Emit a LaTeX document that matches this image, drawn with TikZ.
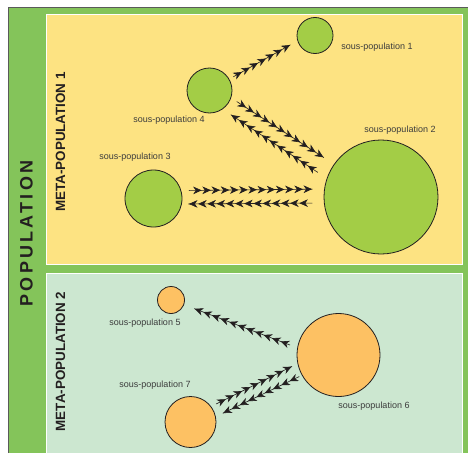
\documentclass[tikz,border=0pt]{standalone}
\usepackage{fontspec}
\setmainfont{Liberation Sans}
\newfontfamily\popfont[LetterSpace=18]{Liberation Sans}
\usetikzlibrary{arrows.meta,decorations.markings,calc}
\definecolor{bandgreen}{HTML}{84C45A}
\definecolor{metayellow}{HTML}{FDE382}
\definecolor{metagreen}{HTML}{CCE7D0}
\definecolor{cgreen}{HTML}{A3CD46}
\definecolor{corange}{HTML}{FDC163}
\definecolor{ink}{HTML}{231F20}
\definecolor{labgray}{HTML}{3C3C3C}
\definecolor{framegray}{HTML}{5A5A5A}
\begin{document}
\begin{tikzpicture}[x=1pt,y=-1pt,
  pop/.style={circle,draw=ink,line width=0.8pt,inner sep=0pt},
  gpop/.style={pop,fill=cgreen},
  opop/.style={pop,fill=corange},
  lab/.style={font=\fontsize{9}{10}\selectfont,text=labgray,inner sep=0pt},
  metalab/.style={font=\bfseries\fontsize{13.4}{14}\selectfont,text=ink,rotate=90,inner sep=0pt},
  % path is written from the target end to the source end; heads point back to the target
  chainline/.style={draw=ink,line width=0.6pt,postaction={decorate},
    decoration={markings,mark=between positions 0.5pt and -6pt step 9.2pt with {\arrowreversed{Stealth[length=8.5pt,width=7.6pt,inset=2.6pt]}}}},
]
\useasboundingbox (0,0) rectangle (468,452);
% frames
\path[fill=bandgreen,draw=framegray,line width=1pt] (8,8) rectangle (480,470);
\path[fill=metayellow,draw=white,line width=0.8pt] (46,14) rectangle (462,264);
\path[fill=metagreen,draw=white,line width=0.8pt] (46,273) rectangle (462,470);
% titles
\node[font=\popfont\bfseries\fontsize{18}{20}\selectfont,text=ink,rotate=90,inner sep=0pt] (poptitle) at (26.5,233.5) {POPULATION};
\node[metalab] (meta1) at (60.5,142) {META-POPULATION 1};
\node[metalab] (meta2) at (60.5,361.5) {META-POPULATION 2};
% sub-populations, meta 1
\node[gpop,minimum size=36pt] (sp1) at (315,35.5) {};
\node[gpop,minimum size=45pt] (sp4) at (209.5,90.5) {};
\node[gpop,minimum size=114pt] (sp2) at (381,197) {};
\node[gpop,minimum size=57pt] (sp3) at (153.5,198.5) {};
% sub-populations, meta 2
\node[opop,minimum size=27pt] (sp5) at (171,300) {};
\node[opop,minimum size=83pt] (sp6) at (338.5,355) {};
\node[opop,minimum size=51pt] (sp7) at (190.5,422) {};
% labels
\node[lab] (l1) at (377,47) {sous-population 1};
\node[lab] (l4) at (169,120) {sous-population 4};
\node[lab] (l2) at (400,130) {sous-population 2};
\node[lab] (l3) at (135,157) {sous-population 3};
\node[lab] (l5) at (145,323) {sous-population 5};
\node[lab] (l7) at (155,385) {sous-population 7};
\node[lab] (l6) at (374,406) {sous-population 6};
% migration chains (target end first)
\path[chainline] ($(sp1.197)!8pt!(sp4.30)$) -- ($(sp4.30)!4.6pt!(sp1.197)$);          % 4 -> 1
\path[chainline] ($(sp2.145.6)!12pt!(sp4.341)$) -- ($(sp4.341)!6.6pt!(sp2.145.6)$);    % 4 -> 2
\path[chainline] ($(sp4.305)!9.8pt!(sp2.161)$) -- ($(sp2.161)!10.7pt!(sp4.305)$);      % 2 -> 4
\path[chainline] ($(sp2.172.5)!11.6pt!(sp3.16.9)$) -- ($(sp3.16.9)!7.5pt!(sp2.172.5)$);% 3 -> 2
\path[chainline] ($(sp3.349.3)!6.6pt!(sp2.186.7)$) -- ($(sp2.186.7)!11.5pt!(sp3.349.3)$);% 2 -> 3
\path[chainline] ($(sp5.340.8)!10.9pt!(sp6.170.6)$) -- ($(sp6.170.6)!7.7pt!(sp5.340.8)$);% 6 -> 5
\path[chainline] ($(sp6.192.1)!6.1pt!(sp7.37.8)$) -- ($(sp7.37.8)!5.5pt!(sp6.192.1)$);  % 7 -> 6
\path[chainline] ($(sp7.12.2)!7.7pt!(sp6.209.7)$) -- ($(sp6.209.7)!2.8pt!(sp7.12.2)$);  % 6 -> 7
\end{tikzpicture}
\end{document}
